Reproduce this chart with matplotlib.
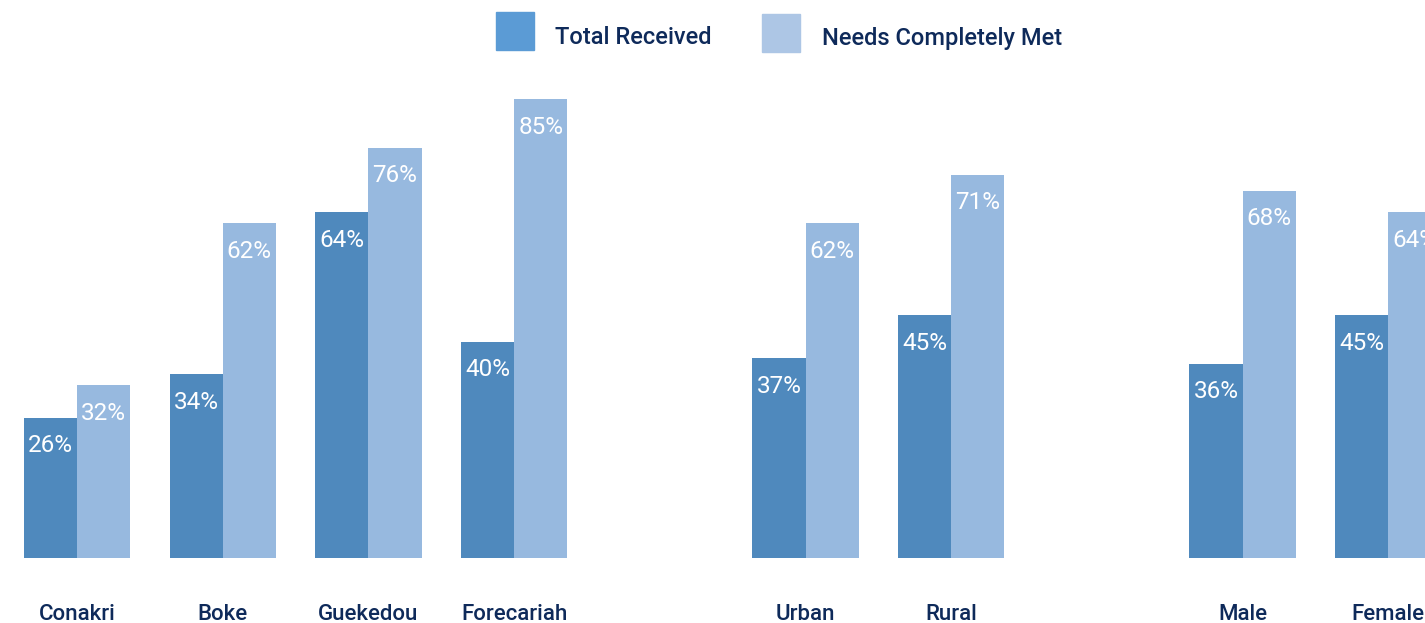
import matplotlib
matplotlib.use('Agg')
import matplotlib.pyplot as plt
from matplotlib.patches import Rectangle
import numpy as np

plt.rcParams['font.family'] = ['Roboto', 'DejaVu Sans']

# data
categories = ['Conakri', 'Boke', 'Guekedou', 'Forecariah', 'Urban', 'Rural', 'Male', 'Female']
slots = [0, 1, 2, 3, 5, 6, 8, 9]   # gaps between the three groups
total_received = [26, 34, 64, 40, 37, 45, 36, 45]
needs_met = [32, 62, 76, 85, 62, 71, 68, 64]
series_names = ['Total Received', 'Needs Completely Met']

dark = '#4F89BD'
light = '#97B9DF'
legend_colors = ['#5B9BD5', '#ADC6E5']
navy = '#0E2A5A'

W, H = 1425, 623
fig = plt.figure(figsize=(W / 100, H / 100), dpi=100)

# axes laid out in pixels: baseline at y=558, ~5.4 px per percent
base_px = 558
ax = fig.add_axes([0, (H - base_px) / H, 1, base_px / H])
px_per_slot = 145.7
x0 = 77
ax.set_xlim(-x0 / px_per_slot, (W - x0) / px_per_slot)
ax.set_ylim(0, base_px / 5.4)
ax.axis('off')

x = np.array(slots, dtype=float)
bw = 0.365
b1 = ax.bar(x - bw / 2, total_received, bw, color=dark, linewidth=0)
b2 = ax.bar(x + bw / 2, needs_met, bw, color=light, linewidth=0)

# value labels inside bars, near the top
for bars, vals in [(b1, total_received), (b2, needs_met)]:
    for rect, v in zip(bars, vals):
        ax.annotate(f'{v}%', (rect.get_x() + rect.get_width() / 2, v),
                    xytext=(0, -28), textcoords='offset pixels',
                    ha='center', va='center', color='white', fontsize=17.5)

# category labels below the baseline
for xi, name in zip(x, categories):
    ax.annotate(name, (xi, 0), xytext=(0, -57), textcoords='offset pixels',
                ha='center', va='center', color=navy, fontsize=16,
                fontweight='medium', annotation_clip=False)

# manual legend at the top
leg = [(496, 12, 555, 37), (762, 14, 822, 39)]
for (px, py, tx, ty), col, name in zip(leg, legend_colors, series_names):
    fig.patches.append(Rectangle((px / W, 1 - (py + 38) / H), 38 / W, 38 / H,
                                 transform=fig.transFigure, color=col))
    fig.text(tx / W, 1 - ty / H, name, ha='left', va='center', color=navy,
             fontsize=17, fontweight='medium')

fig.savefig('out.png', dpi=100)
